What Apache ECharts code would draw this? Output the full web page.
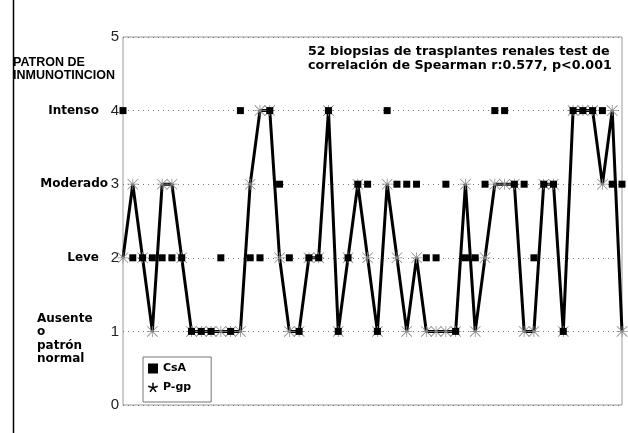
<!DOCTYPE html>
<html><head><meta charset="utf-8">
<script src="https://cdn.jsdelivr.net/npm/echarts@6/dist/echarts.min.js"></script>
<style>html,body{margin:0;padding:0;background:#fff}#c{width:628px;height:433px}</style>
</head><body><div id="c"></div>
<script>
const biopsies = ['1','2','3','4','5','6','7','8','9','10','11','12','13','14','15','16','17','18','19','20','21','22','23','24','25','26',
  '27','28','29','30','31','32','33','34','35','36','37','38','39','40','41','42','43','44','45','46','47','48','49','50','51','52'];
const csa = [4,2,2,2,2,2,2,1,1,1,2,1,4,2,2,4,3,2,1,2,2,4,1,2,3,3,1,4,3,3,3,2,2,3,1,2,2,3,4,4,3,3,2,3,3,1,4,4,4,4,3,3];
const pgp = [2,3,2,1,3,3,2,1,1,1,1,1,1,3,4,4,2,1,1,2,2,4,1,2,3,2,1,3,2,1,2,1,1,1,1,3,1,2,3,3,3,1,1,3,3,1,4,4,4,3,4,1];
const yTicks = [0,1,2,3,4,5];
const levelNames = [
  {value:4, text:'Intenso'},
  {value:3, text:'Moderado'},
  {value:2, text:'Leve'},
  {value:1, text:'Ausente\no\npatrón\nnormal'}
];
const axisTitle = 'PATRON DE\nINMUNOTINCION';
const noteText = '52 biopsias de trasplantes renales test de\ncorrelación de Spearman r:0.577, p<0.001';
const seriesNames = ['CsA','P-gp'];

const starPath = 'path://M0,9.3L20,9.3L20,10.7L0,10.7Z M9.3,0L10.7,0L10.7,20L9.3,20Z M1,0L20,19L19,20L0,1Z M19,0L20,1L1,20L0,19Z';
const legendStar = 'path://M8.6,0L11.4,0L11.4,7.5L18.5,5.2L19.4,7.9L12.3,10.2L16.7,16.3L14.4,18L10,11.9L5.6,18L3.3,16.3L7.7,10.2L0.6,7.9L1.5,5.2L8.6,7.5Z';

const chart = echarts.init(document.getElementById('c'), null, {renderer:'canvas'});
const labelFont = 'bold 12px "DejaVu Sans", sans-serif';
chart.setOption({
  animation:false,
  backgroundColor:'#fff',
  grid:{left:123, right:6, top:37, bottom:28, show:true, borderColor:'#9a9a9a', borderWidth:1},
  xAxis:{type:'category', data:biopsies, boundaryGap:false,
    axisLine:{show:false}, axisTick:{show:false}, axisLabel:{show:false}, splitLine:{show:false}},
  yAxis:{type:'value', min:yTicks[0], max:yTicks[yTicks.length-1], interval:1,
    axisLine:{show:false}, axisTick:{show:false},
    axisLabel:{margin:4, color:'#222', fontSize:15, fontFamily:'Liberation Sans, Arial, sans-serif'},
    splitLine:{show:true, lineStyle:{type:[1,4], color:'#777', width:1}}},
  legend:{orient:'vertical', left:143, top:357, padding:[6,20,9,5], itemGap:8, itemWidth:10, itemHeight:10,
    borderColor:'#777', borderWidth:1, backgroundColor:'#fff',
    textStyle:{fontFamily:'DejaVu Sans, sans-serif', fontWeight:'bold', fontSize:11, color:'#000'},
    data:[{name:seriesNames[0], icon:'rect', itemStyle:{color:'#000', opacity:1}},
          {name:seriesNames[1], icon:legendStar, itemStyle:{color:'#000'}}]},
  series:[
    {name:seriesNames[1], type:'line', data:pgp, symbol:starPath, symbolSize:11, showSymbol:true, showAllSymbol:true,
      lineStyle:{color:'#000', width:3}, itemStyle:{color:'#8a8a8a'}, z:2},
    {name:seriesNames[0], type:'scatter', data:csa, symbol:'rect', symbolSize:7,
      itemStyle:{color:'#000', opacity:1}, z:3}
  ]
});

const gx = [];
levelNames.forEach(l => {
  const y = chart.convertToPixel({yAxisIndex:0}, l.value);
  if (l.value === 1) {
    gx.push({type:'text', style:{text:l.text, x:37, y:y-19, font:labelFont, fill:'#000', lineHeight:13.3, textAlign:'left', textVerticalAlign:'top'}});
  } else {
    const rightX = l.value === 3 ? 108 : 99;
    gx.push({type:'text', style:{text:l.text, x:rightX, y:y, font:labelFont, fill:'#000', textAlign:'right', textVerticalAlign:'middle'}});
  }
});
gx.push({type:'text', style:{text:axisTitle, x:13, y:69, font:'bold 12.5px "Liberation Sans", Arial, sans-serif', fill:'#000', lineHeight:13, textAlign:'left', textVerticalAlign:'middle'}});
gx.push({type:'text', style:{text:noteText, x:308, y:59, font:'bold 12.7px "DejaVu Sans", sans-serif', fill:'#000', lineHeight:14, textAlign:'left', textVerticalAlign:'middle'}});
gx.push({type:'line', shape:{x1:13.5, y1:0, x2:13.5, y2:433}, style:{stroke:'#000', lineWidth:1.5}});
chart.setOption({graphic:gx});
</script></body></html>
